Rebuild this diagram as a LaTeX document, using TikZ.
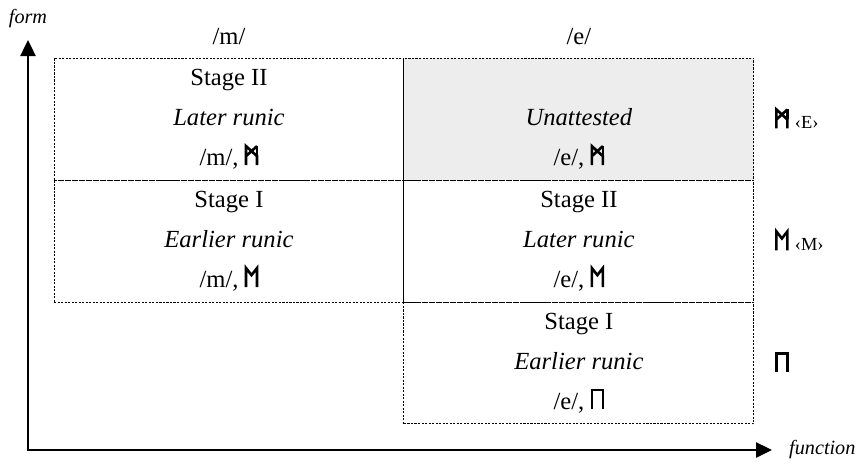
\documentclass[tikz,border=0pt]{standalone}
\usepackage{fontspec}
\setmainfont{Liberation Serif}
\usetikzlibrary{positioning,arrows.meta}
\definecolor{unattested}{RGB}{236,237,236}

\begin{document}
\begin{tikzpicture}[
  x=0.02cm, y=-0.02cm,
  cell/.style={
    draw, dash pattern=on 1.2pt off 0.8pt, line width=0.5pt,
    minimum width=7cm, minimum height=2.44cm,
    inner sep=0pt, outer sep=0pt,
    font=\fontsize{14}{22.7}\selectfont, align=center
  },
  head/.style={font=\fontsize{14}{16}\selectfont},
  axis/.style={line width=1.4pt, {Triangle[length=0.32cm,width=0.3cm]}-{Triangle[length=0.32cm,width=0.3cm]}},
  axlabel/.style={font=\fontsize{11.5}{13}\selectfont\itshape},
  side/.style={font=\fontsize{14}{16}\selectfont},
  runeline/.style={x=1cm, y=1cm, baseline=0pt, line width=1.5pt, solid, line join=miter}
]
\useasboundingbox (0,0) rectangle (861,467);

% runes, drawn as small inline pictures
\def\runeM{\tikz[runeline]{\draw (0,0) -- (0,0.38) -- (0.22,0.18) -- (0.22,0) (0.22,0.38) -- (0,0.18);
  \draw (0.22,0.18) -- (0.22,0.38);}}
\def\runeE{\tikz[runeline]{\draw (0,0) -- (0,0.38) -- (0.11,0.24) -- (0.22,0.38) -- (0.22,0);}}
\def\runeP{\tikz[runeline]{\draw (0,0) -- (0,0.38) -- (0.22,0.38) -- (0.22,0);}}

% --- Cells ---
\node[cell, anchor=north west] (m2) at (54,58) {Stage II\\\textit{Later runic}\\/m/, \runeM};
\node[cell, fill=unattested, right=0pt of m2] (e3) {\vphantom{Stage}\\\textit{Unattested}\\/e/, \runeM};
\node[cell, below=0pt of m2] (m1) {Stage I\\\textit{Earlier runic}\\/m/, \runeE};
\node[cell, below=0pt of e3] (e2) {Stage II\\\textit{Later runic}\\/e/, \runeE};
\node[cell, below=0pt of e2] (e1) {Stage I\\\textit{Earlier runic}\\/e/, \runeP};

% --- Column heads ---
\node[head, above=4pt of m2] (mhead) {/m/};
\node[head, above=4pt of e3] (ehead) {/e/};

% --- Rune forms on the right ---
\node[side, right=0.3cm of e3] (sE) {\runeM\ {\fontsize{10.5}{12}\selectfont‹E›}};
\node[side, right=0.3cm of e2] (sM) {\runeE\ {\fontsize{10.5}{12}\selectfont‹M›}};
\node[side, right=0.3cm of e1] (sP) {\runeP};

% --- Axes ---
\coordinate (o) at (28,450);
\coordinate (ytip) at (28,40);
\coordinate (xtip) at (772,450);
\draw[axis] (ytip) -- (o) -- (xtip);
\node[axlabel, above=0.12cm of ytip] (form) {form};
\node[axlabel, right=0.22cm of xtip] (func) {function};

\end{tikzpicture}
\end{document}
